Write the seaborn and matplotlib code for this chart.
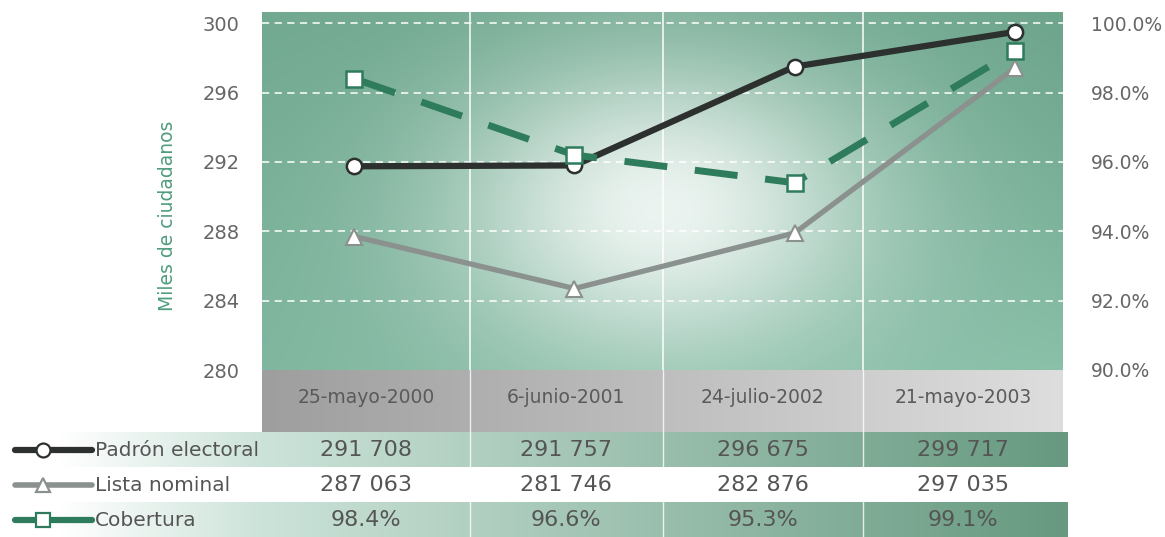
import numpy as np
import pandas as pd
import matplotlib.pyplot as plt
import seaborn as sns
from matplotlib.lines import Line2D

# fechas de corte
fechas = ["25-mayo-2000", "6-junio-2001", "24-julio-2002", "21-mayo-2003"]

# posiciones (miles de ciudadanos / porcentaje)
padron_graf = [291.75, 291.8, 297.5, 299.5]
lista_graf = [287.7, 284.7, 287.9, 297.4]
cobertura_graf = [98.4, 96.2, 95.4, 99.2]

# valores de la tabla
padron_tabla = ["291 708", "291 757", "296 675", "299 717"]
lista_tabla = ["287 063", "281 746", "282 876", "297 035"]
cobertura_tabla = ["98.4%", "96.6%", "95.3%", "99.1%"]

series = ["Padrón electoral", "Lista nominal", "Cobertura"]

left_ticks = [280, 284, 288, 292, 296, 300]
right_ticks = [90, 92, 94, 96, 98, 100]

c_padron = "#2c302e"
c_lista = "#8b918e"
c_cob = "#2f7c5d"
c_text = "#666666"

df = pd.DataFrame({
    "x": np.arange(len(fechas)),
    "padron": padron_graf,
    "lista": lista_graf,
    "cobertura": cobertura_graf,
})

sns.set_style("white")
plt.rcParams["font.family"] = ["DejaVu Sans"]

W, H = 1165, 537
fig = plt.figure(figsize=(W / 100, H / 100), dpi=100)

x0, x1, y0, y1 = 262, 1063, 12, 370
ax = fig.add_axes([x0 / W, 1 - y1 / H, (x1 - x0) / W, (y1 - y0) / H])

# fondo verde con degradado
u = np.linspace(0, 1, 300)
v = np.linspace(0, 1, 150)
U, V = np.meshgrid(u, v)
dark = np.array([0.41, 0.63, 0.53])
mid = np.array([0.54, 0.75, 0.66])
t = np.clip(0.45 * V + 0.3 * U * V + 0.25, 0, 1)
base = dark[None, None, :] * (1 - t[..., None]) + mid[None, None, :] * t[..., None]
edge = np.clip((U - 0.8) / 0.2, 0, 1) * (1 - V) * 0.5
base = base * (1 - edge[..., None]) + dark[None, None, :] * edge[..., None]
w = np.exp(-(((U - 0.5) / 0.26) ** 2 + ((V - 0.55) / 0.42) ** 2))
bg = base * (1 - 0.85 * w[..., None]) + 0.85 * w[..., None]
ax.imshow(bg, extent=[0, 1, 0, 1], transform=ax.transAxes, aspect="auto", zorder=0)

ax.set_ylim(280, 300.65)
ax.set_xlim(-0.42, 3.22)

for yv in left_ticks[1:]:
    ax.axhline(yv, color="white", lw=1.3, ls=(0, (4, 3)), alpha=0.85, zorder=1)
for fx in [0.26, 0.5, 0.75]:
    ax.axvline(ax.get_xlim()[0] + fx * (ax.get_xlim()[1] - ax.get_xlim()[0]),
               color="white", lw=1.2, alpha=0.9, zorder=1)

ax2 = ax.twinx()
ax2.set_ylim(90, 90 + (300.65 - 280) / 2)

sns.lineplot(data=df, x="x", y="padron", ax=ax, color=c_padron, lw=4.5,
             marker="o", markersize=11, markerfacecolor="white",
             markeredgecolor=c_padron, markeredgewidth=1.8, zorder=4)
sns.lineplot(data=df, x="x", y="lista", ax=ax, color=c_lista, lw=3.8,
             marker="^", markersize=11, markerfacecolor="white",
             markeredgecolor=c_lista, markeredgewidth=1.5, zorder=3)
sns.lineplot(data=df, x="x", y="cobertura", ax=ax2, color=c_cob, lw=5,
             marker="s", markersize=12, markerfacecolor="white",
             markeredgecolor=c_cob, markeredgewidth=1.8, zorder=5)
ax2.lines[-1].set_dashes((6.2, 4.0))

ax.set_xticks([])
ax.set_xlabel("")
ax.set_yticks(left_ticks)
ax.set_yticklabels([str(t) for t in left_ticks], fontsize=14, color=c_text)
ax.tick_params(axis="y", length=0, pad=16)
ax.set_ylabel("Miles de ciudadanos", color="#4f9c7c", fontsize=13.5)
ax.yaxis.set_label_coords(-0.106, 0.43)

ax2.set_yticks(right_ticks)
ax2.set_yticklabels([f"{t:.1f}%" for t in right_ticks], fontsize=13.5, color=c_text)
ax2.tick_params(axis="y", length=0, pad=20)
ax2.set_ylabel("")
ax2.set_xlim(ax.get_xlim())

for a in (ax, ax2):
    for s in a.spines.values():
        s.set_visible(False)

# tabla inferior (coordenadas en pixeles de la figura)
tb = fig.add_axes([0, 0, 1, 1 - y1 / H])
tb.set_xlim(0, W)
tb.set_ylim(H, y1)
tb.axis("off")

def hgrad(c_left, c_right, n=256):
    c_left = np.array(c_left)
    c_right = np.array(c_right)
    s = np.linspace(0, 1, n)[None, :, None]
    return c_left * (1 - s) + c_right * s

# encabezado gris
tb.imshow(hgrad([0.62, 0.62, 0.62], [0.87, 0.87, 0.87]), extent=[x0, x1, 432, y1],
          aspect="auto", zorder=0)
# filas verdes
green_row = hgrad([1, 1, 1], [0.80, 0.89, 0.85])
green_row2 = hgrad([0.80, 0.89, 0.85], [0.40, 0.60, 0.50])
for top, bot in [(432, 467), (502, H)]:
    tb.imshow(green_row, extent=[60, x0, bot, top], aspect="auto", zorder=0)
    tb.imshow(green_row2, extent=[x0, 1068, bot, top], aspect="auto", zorder=0)

col_edges = [x0 + f * (x1 - x0) for f in [0, 0.26, 0.5, 0.75, 1.0]]
for xe in col_edges[1:-1]:
    tb.plot([xe, xe], [y1, H], color="white", lw=1, alpha=0.8, zorder=1)
centers = [(a + b) / 2 for a, b in zip(col_edges[:-1], col_edges[1:])]

for cx, f in zip(centers, fechas):
    tb.text(cx, 398, f, ha="center", va="center", fontsize=13.5, color="#5a5a5a")

rows_y = [450, 485, 520]
valores = [padron_tabla, lista_tabla, cobertura_tabla]
estilos = [(c_padron, "o", 4.5), (c_lista, "^", 4.0), (c_cob, "s", 4.5)]
for ry, nombre, vals, (col, mk, lw) in zip(rows_y, series, valores, estilos):
    tb.add_line(Line2D([15, 92], [ry, ry], color=col, lw=lw, zorder=2))
    tb.add_line(Line2D([43], [ry], color=col, marker=mk, markersize=10,
                       markerfacecolor="white", markeredgecolor=col,
                       markeredgewidth=1.6, zorder=3))
    tb.text(95, ry + 1, nombre, ha="left", va="center", fontsize=14.5, color="#555555")
    for cx, vtxt in zip(centers, vals):
        tb.text(cx, ry, vtxt, ha="center", va="center", fontsize=16, color="#555555")

fig.savefig("out.png", dpi=100)
